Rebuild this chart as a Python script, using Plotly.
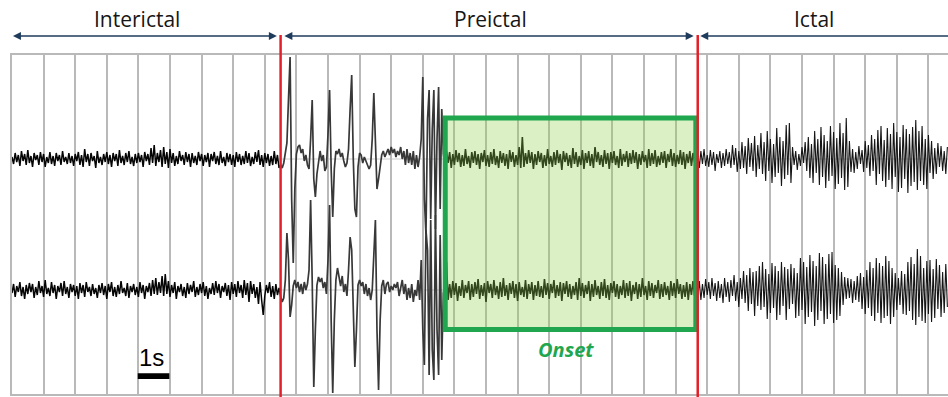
import numpy as np
import plotly.graph_objects as go

# ---------------- data ----------------
FS = 20.0                 # samples per second
DT = 1.0 / FS

# phase boundaries (seconds)
PREICTAL_START = 8.5
ONSET_START = 13.65
ICTAL_START = 21.7
RECORD_END = 29.62

phase_names = ["Interictal", "Preictal", "Ictal"]
phase_label_t = [3.95, 15.14, 25.37]
phase_arrows = [(0.03, 8.43), (8.62, 21.62), (21.78, 30.5)]

onset_window = (13.71, 21.64)        # seconds
onset_amp = (64.5, 276.0)            # display units

# channel offsets (display units, 1 unit ~ 1 px)
CH1_OFFSET = 235
CH2_OFFSET = 104

ch1_interictal = [
    2, -5, 6, -3, 4, -7, 8, -2, 5, -6, 9, -4, 3, -8, 6, -1, 4, -6, 7, -3,
    5, -8, 2, -4, 7, -5, 3, -7, 6, -2, 4, -6, 8, -3, 2, -5, 6, -4, 3, -7,
    5, -2, 7, -6, 4, -8, 10, -3, 5, -7, 6, -2, 3, -9, 8, -4, 2, -6, 5, -3,
    7, -5, 4, -8, 6, -2, 5, -7, 9, -4, 3, -6, 6, -3, 8, -5, 2, -7, 5, -4,
    6, -3, 4, -8, 7, -2, 5, -6, 11, -4, 14, -7, 6, -3, 9, -8, 12, -5, 7, -9,
    10, -4, 6, -7, 3, -5, 8, -2, 4, -6, 7, -3, 5, -8, 6, -4, 3, -6, 7, -2,
    5, -7, 4, -3, 6, -8, 5, -2, 7, -5, 3, -6, 8, -4, 2, -7, 6, -3, 5, -6,
    4, -8, 7, -3, 5, -6, 3, -5, 8, -4, 6, -7, 2, -5, 7, -3, 9, -6, 4, -8,
    6, -4, 5, -7, 3, -6, 8, -5, 4, -9,
]
ch1_preictal = [
    -6, -9, -4, 8, 16, 60, 102, -40, -104, -30,
    5, 12, 14, 6, 10, -2, 4, -6, -10, 20,
    59, -20, -38, -15, -2, 8, -2, 4, -12, -8,
    25, 69, -10, -58, -10, 8, 5, 10, 2, 6,
    -2, -8, -4, 10, 50, 84, 0, -50, -58, -8,
    6, 4, -4, 2, -2, -6, -10, -6, 20, 66,
    10, -30, -20, -5, 4, 8, 2, 6, 10, 4,
    12, 6, 10, 2, 8, 4, 12, 0, 8, -6,
    10, -4, 6, -6, 8, -10, 4, -8, 2, 20,
    82, -40, -75, 40, 69, -60, 30, 69, -70, 20,
    72, -50, 50,
]
ch1_onset = [
    6, -10, 8, -4, 7, -9, 5, -6, 9, -3, 6, -8, 4, -7, 10, -5, 3, -9, 7, -4,
    8, -6, 5, -10, 6, -3, 9, -7, 4, -8, 7, -5, 10, -6, 3, -9, 8, -4, 6, -7,
    5, -10, 9, -3, 7, -8, 4, -6, 12, -9, 22, -8, 6, -5, 9, -4, 7, -10, 5, -6,
    8, -3, 6, -9, 4, -7, 10, -5, 3, -8, 7, -6, 9, -4, 5, -11, 8, -3, 6, -7,
    4, -9, 11, -5, 7, -8, 3, -6, 9, -10, 6, -4, 8, -7, 5, -9, 12, -3, 7, -6,
    4, -8, 9, -5, 6, -10, 7, -4, 8, -6, 3, -9, 10, -7, 5, -3, 8, -8, 6, -5,
    9, -4, 7, -10, 5, -6, 8, -3, 4, -9, 10, -7, 6, -5, 9, -8, 3, -6, 7, -4,
    8, -9, 5, -3, 10, -7, 6, -8, 4, -5, 9, -6, 7, -10, 5, -4, 8, -7, 6, -3, 5,
]
ch1_ictal = [
    6, -9, 8, -5, 10, -7, 4, -8, 9, -6, 7, -12, 5, -4, 8, -9, 6, -7, 10, -5,
    7, -9, 14, -6, 11, -13, 8, -10, 17, -9, 13, -15, 21, -8, 16, -12, 23, -18, 14, -10,
    26, -15, 17, -22, 28, -12, 20, -24, 15, -18, 31, -14, 22, -27, 18, -20, 34, -16, 36, -24,
    12, -6, 8, -11, 5, -7, 12, -4, 17, -12, 22, -19, 15, -24, 28, -14, 20, -26, 32, -18,
    24, -29, 18, -22, 33, -17, 27, -30, 21, -25, 36, -19, 26, -31, 41, -28, 18, -13, 10, -14,
    7, -10, 13, -5, 9, -13, 18, -9, 14, -17, 24, -12, 20, -26, 29, -15, 33, -22, 19, -28,
    31, -21, 25, -30, 36, -18, 27, -33, 22, -29, 34, -20, 30, -34, 25, -27, 32, -23, 39, -31,
    28, -22, 33, -26, 20, -30, 24, -14, 18, -20, 11, -15, 16, -8, 13, -12, 8, -15, 12,
]

ch2_interictal = [
    -3, 6, -7, 4, -2, 8, -6, 3, -9, 5, -4, 7, -2, 6, -8, 3, -5, 9, -3, 4,
    -7, 10, -4, 2, -6, 8, -3, 5, -9, 4, -2, 7, -6, 9, -4, 3, -8, 6, -2, 5,
    -6, 4, -9, 7, -3, 5, -7, 8, -2, 3, -6, 6, -4, 2, -8, 5, -3, 7, -5, 4,
    -9, 6, -2, 8, -6, 3, -7, 5, -4, 9, -3, 2, -6, 7, -8, 4, -2, 6, -5, 3,
    -7, 8, -3, 5, -9, 4, -2, 7, -6, 10, -4, 12, -5, 8, -3, 14, -6, 16, -4, 9,
    -7, 5, -3, 8, -9, 4, -2, 6, -6, 3, -8, 7, -4, 5, -2, 9, -7, 3, -5, 6,
    -3, 8, -6, 4, -9, 2, -4, 7, -5, 9, -3, 6, -8, 4, -2, 7, -6, 5, -10, 8,
    -4, 6, -7, 9, -3, 5, -8, 10, -5, 7, -12, 9, -4, 6, -8, 3, -14, 8, -10, -25,
    -6, 5, -3, 8, -7, 4, -9, 6, -5, 2,
]
ch2_preictal = [
    -6, -12, -8, 10, 57, 30, -27, -15, 4, 10,
    2, 8, -2, 6, -4, 8, 0, 6, 20, 90,
    10, -97, -40, 5, 13, 8, 12, 2, 8, -4,
    30, 85, -30, -103, -30, 10, 22, 12, 4, 14,
    -2, 6, -6, 20, 53, 40, -10, -77, -40, 5,
    10, 4, 8, -4, 6, -6, 2, -10, 0, 30,
    70, -40, -100, -30, 4, 10, -4, 6, 8, -2,
    4, 0, 6, 2, 8, -6, 4, 10, -4, 6,
    -10, 2, -8, 6, -12, 0, -6, 10, -10, 30,
    -40, -75, 60, 40, -85, 70, -60, -90, 75, -40,
    -85, 55, -70,
]
ch2_onset = [
    -4, 8, 28, -10, 6, -8, 9, -5, 7, -11, 4, -6, 10, -8, 5, -3, 9, -10, 6, -7,
    8, -4, 11, -9, 5, -6, 7, -12, 9, -3, 6, -8, 10, -5, 4, -9, 8, -7, 12, -6,
    5, -10, 7, -4, 9, -8, 6, -11, 8, -5, 3, -7, 10, -9, 6, -4, 8, -10, 5, -6,
    9, -7, 4, -8, 11, -5, 7, -9, 6, -3, 10, -8, 5, -6, 8, -11, 7, -4, 9, -7,
    6, -9, 4, -5, 8, -10, 12, -6, 7, -8, 5, -4, 9, -11, 6, -7, 10, -5, 4, -9,
    8, -6, 11, -8, 5, -10, 7, -3, 9, -7, 6, -9, 4, -5, 10, -8, 7, -6, 9, -11,
    5, -4, 8, -9, 6, -7, 12, -5, 4, -10, 9, -6, 7, -8, 5, -3, 10, -9, 6, -7,
    8, -5, 4, -10, 9, -6, 7, -8, 11, -4, 6, -9, 5, -7, 8, -10, 6, -5, 9, -6, 7,
]
ch2_ictal = [
    -7, 9, -10, 6, -8, 11, -5, 8, -9, 12, -6, 7, -11, 9, -8, 6, -13, 12, -7, 8,
    -12, 10, -6, 15, -11, 8, -17, 12, -9, 19, -13, 15, -21, 22, -14, 18, -26, 19, -16, 24,
    -20, 28, -17, 21, -29, 16, -23, 27, -18, 24, -30, 19, -25, 28, -16, 23, -30, 21, -19, 26,
    -14, 22, -28, 17, -26, 32, -20, 28, -34, 23, -27, 35, -22, 29, -36, 24, -30, 37, -21, 33,
    -34, 26, -29, 36, -24, 38, -33, 25, -30, 22, -26, 18, -15, 13, -9, 12, -8, 11, -13, 9,
    -10, 14, -12, 17, -19, 13, -24, 20, -18, 28, -26, 22, -31, 32, -23, 27, -33, 24, -28, 34,
    -26, 29, -34, 22, -27, 17, -20, 12, -15, 19, -24, 16, -25, 28, -21, 33, -30, 26, -35, 41,
    -27, 34, -31, 22, -33, 29, -24, 30, -32, 21, -28, 31, -19, 25, -27, 18, -23, 26, -17,
]

segment_starts = [0.0, PREICTAL_START, ONSET_START, ICTAL_START]

# scale bar (1 s)
scale_bar_t = (3.98, 4.98)

# ---------------- build ----------------
# per-segment line styles: interictal, preictal, onset, ictal
seg_width = [1.5, 1.7, 1.6, 1.1]
seg_color = ["#050505", "#383838", "#050505", "#151515"]

def segments_with_time(segments):
    out = []
    for i, (start, seg) in enumerate(zip(segment_starts, segments)):
        t = start + DT * np.arange(len(seg))
        v = np.asarray(seg, dtype=float)
        if i + 1 < len(segments):   # join to first sample of next segment
            t = np.append(t, segment_starts[i + 1])
            v = np.append(v, segments[i + 1][0])
        out.append((t, v))
    return out

ch1 = segments_with_time([ch1_interictal, ch1_preictal, ch1_onset, ch1_ictal])
ch2 = segments_with_time([ch2_interictal, ch2_preictal, ch2_onset, ch2_ictal])

Y_TOP = 339.0
def ypaper(px):  # pixel row -> paper coordinate (plot spans rows 55..394)
    return (394.0 - px) / Y_TOP

GRID = "#b9b9b9"
NAVY = "#1f3b5c"
RED = "#e3202a"
GREEN = "#1fa64f"

fig = go.Figure()
for segs, off in [(ch1, CH1_OFFSET), (ch2, CH2_OFFSET)]:
    for (t, v), w, c in zip(segs, seg_width, seg_color):
        fig.add_trace(go.Scatter(x=t, y=v + off, mode="lines",
                                 line=dict(color=c, width=w),
                                 hoverinfo="skip", showlegend=False))

shapes = []
for off in (CH1_OFFSET, CH2_OFFSET):
    shapes.append(dict(type="line", xref="x", yref="y", x0=0, x1=RECORD_END,
                       y0=off, y1=off, line=dict(color="#cccccc", width=1), layer="below"))
shapes.append(dict(type="rect", xref="x", yref="y",
                   x0=onset_window[0], x1=onset_window[1], y0=onset_amp[0], y1=onset_amp[1],
                   fillcolor="rgba(146,208,80,0.33)", line=dict(color=GREEN, width=5),
                   layer="above"))
for tb in (PREICTAL_START, ICTAL_START):
    shapes.append(dict(type="line", xref="x", yref="paper", x0=tb, x1=tb,
                       y0=ypaper(397), y1=ypaper(35), line=dict(color=RED, width=2.5),
                       layer="above"))
shapes.append(dict(type="rect", xref="x", yref="y", x0=scale_bar_t[0], x1=scale_bar_t[1],
                   y0=15, y1=20.7, fillcolor="black", line=dict(width=0), layer="above"))

annotations = []
for name, tc in zip(phase_names, phase_label_t):
    annotations.append(dict(x=tc, y=ypaper(19), xref="x", yref="paper", text=name,
                            showarrow=False, xanchor="center", yanchor="middle",
                            font=dict(family="Open Sans", size=21, color="#161616")))
for a0, a1 in phase_arrows:
    side = "end+start" if a1 < RECORD_END else "end"
    annotations.append(dict(x=a0, y=ypaper(36), xref="x", yref="paper",
                            ax=a1, ay=0, axref="x", ayref="pixel", text="",
                            showarrow=True, arrowside=side, arrowhead=2, arrowsize=1,
                            arrowwidth=1.6, arrowcolor=NAVY, standoff=0, startstandoff=0))
annotations.append(dict(x=17.54, y=ypaper(349.5), xref="x", yref="paper", text="Onset",
                        showarrow=False, xanchor="center", yanchor="middle",
                        font=dict(family="Open Sans", size=20, color=GREEN,
                                  weight="bold", style="italic")))
annotations.append(dict(x=4.43, y=ypaper(357), xref="x", yref="paper", text="1s",
                        showarrow=False, xanchor="center", yanchor="middle",
                        font=dict(family="Liberation Sans", size=24, color="black")))

fig.update_layout(
    width=948, height=397,
    margin=dict(l=12, r=0, t=55, b=3),
    plot_bgcolor="white", paper_bgcolor="white",
    showlegend=False,
    shapes=shapes, annotations=annotations,
    xaxis=dict(range=[0, RECORD_END], showgrid=True, tick0=0, dtick=1,
               gridcolor=GRID, gridwidth=1.5, showticklabels=False, ticks="",
               zeroline=False, showline=True, linecolor=GRID, linewidth=1.5,
               mirror=True, fixedrange=True),
    yaxis=dict(range=[0, Y_TOP], showgrid=False, zeroline=False,
               showticklabels=False, ticks="", showline=True, linecolor=GRID,
               linewidth=1.5, mirror=False, fixedrange=True),
)

fig.write_html("out.html", config={"displayModeBar": False},
               post_script="document.body.style.margin='0';document.body.style.overflow='hidden';")
